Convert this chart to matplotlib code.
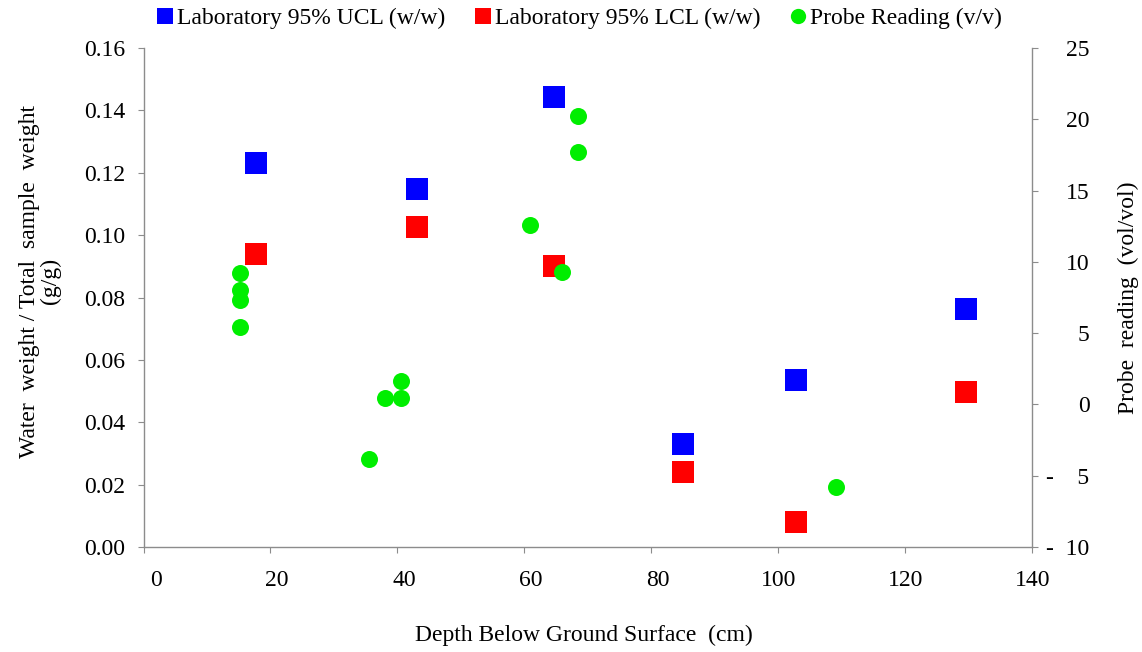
import matplotlib
matplotlib.use("Agg")
import matplotlib.pyplot as plt
import matplotlib.transforms as mtransforms
from matplotlib.lines import Line2D

plt.rcParams['font.family'] = ['Liberation Serif', 'DejaVu Serif']

# Data
lab_depth = [17.7, 43.1, 64.7, 85.1, 102.8, 129.6]
ucl = [0.1230, 0.1148, 0.1443, 0.0331, 0.0534, 0.0762]
lcl = [0.0939, 0.1027, 0.0900, 0.0242, 0.0079, 0.0496]

probe_depth = [15.2, 15.2, 15.2, 15.2, 35.5, 38.0, 40.6, 40.6, 60.9, 66.0, 68.5, 68.5, 109.2]
probe_val = [9.22, 8.0, 7.32, 5.42, -3.82, 0.46, 0.46, 1.65, 12.6, 9.3, 20.2, 17.7, -5.80]

x_ticks = [0, 20, 40, 60, 80, 100, 120, 140]
y_ticks = [0.00, 0.02, 0.04, 0.06, 0.08, 0.10, 0.12, 0.14, 0.16]
y2_ticks = [25, 20, 15, 10, 5, 0, -5, -10]
y2_labels = ["25", "20", "15", "10", "5", "0", "-    5", "-  10"]

W, H = 1142, 652
fig = plt.figure(figsize=(W / 100, H / 100), dpi=100)
L, R, B, T = 143.5, 1031.5, 547, 48
ax = fig.add_axes([L / W, (H - B) / H, (R - L) / W, (B - T) / H])
ax2 = ax.twinx()

gray = '#8c8c8c'
fs = 17
tl = 4.3  # tick length in points (~6 px)

ax.scatter(lab_depth, ucl, marker='s', s=245, color='#0000ff', linewidths=0, zorder=3)
ax.scatter(lab_depth, lcl, marker='s', s=245, color='#ff0000', linewidths=0, zorder=3)
ax2.scatter(probe_depth, probe_val, marker='o', s=150, color='#00ee00', linewidths=0, zorder=4)

ax.set_xlim(0, 140)
ax.set_ylim(0, 0.16)
ax2.set_ylim(-10, 25)

ax.set_xticks(x_ticks)
ax.set_xticklabels([str(v) for v in x_ticks])
ax.set_yticks(y_ticks)
ax.set_yticklabels([f"{v:.2f}" for v in y_ticks])
ax2.set_yticks(y2_ticks)
ax2.set_yticklabels(y2_labels)

for a in (ax, ax2):
    a.spines['top'].set_visible(False)
    for s in a.spines.values():
        s.set_color(gray)
        s.set_linewidth(1.0)
ax2.spines['left'].set_visible(False)
ax2.spines['bottom'].set_visible(False)
ax.spines['right'].set_visible(False)

ax.tick_params(axis='x', direction='out', length=tl, color=gray, labelsize=fs, pad=12)
ax.tick_params(axis='y', direction='out', length=tl, color=gray, labelsize=fs, pad=8.6)
ax2.tick_params(axis='y', direction='out', length=tl, color=gray, labelsize=fs, pad=37.5)

off = mtransforms.ScaledTranslation(18.5 / 100, 0, fig.dpi_scale_trans)
for lab in ax.get_xticklabels():
    lab.set_horizontalalignment('right')
    lab.set_transform(lab.get_transform() + off)
for lab in ax2.get_yticklabels():
    lab.set_horizontalalignment('right')

ax.set_xlabel("Depth Below Ground Surface  (cm)", fontsize=fs, va='center')
ax.xaxis.set_label_coords(584 / W, 1 - 635 / H, transform=fig.transFigure)
ax.set_ylabel("Water  weight / Total  sample  weight\n(g/g)", fontsize=fs, linespacing=1.05,
              va='center')
ax.yaxis.set_label_coords(40 / W, 1 - 281 / H, transform=fig.transFigure)
ax2.set_ylabel("Probe  reading  (vol/vol)", fontsize=fs, va='center', rotation=90)
ax2.yaxis.set_label_coords(1128 / W, 1 - 298 / H, transform=fig.transFigure)

handles = [
    Line2D([], [], marker='s', linestyle='none', color='#0000ff', markersize=11, markeredgewidth=0),
    Line2D([], [], marker='s', linestyle='none', color='#ff0000', markersize=11, markeredgewidth=0),
    Line2D([], [], marker='o', linestyle='none', color='#00ee00', markersize=11, markeredgewidth=0),
]
labels = ["Laboratory 95% UCL (w/w)", "Laboratory 95% LCL (w/w)", "Probe Reading (v/v)"]
fig.legend(handles, labels, loc='center', bbox_to_anchor=(580 / W, 1 - 18 / H), ncol=3,
           frameon=False, fontsize=fs, handlelength=0.6, handletextpad=0.2, columnspacing=1.3,
           borderaxespad=0, borderpad=0)

fig.savefig("out.png", dpi=100)
